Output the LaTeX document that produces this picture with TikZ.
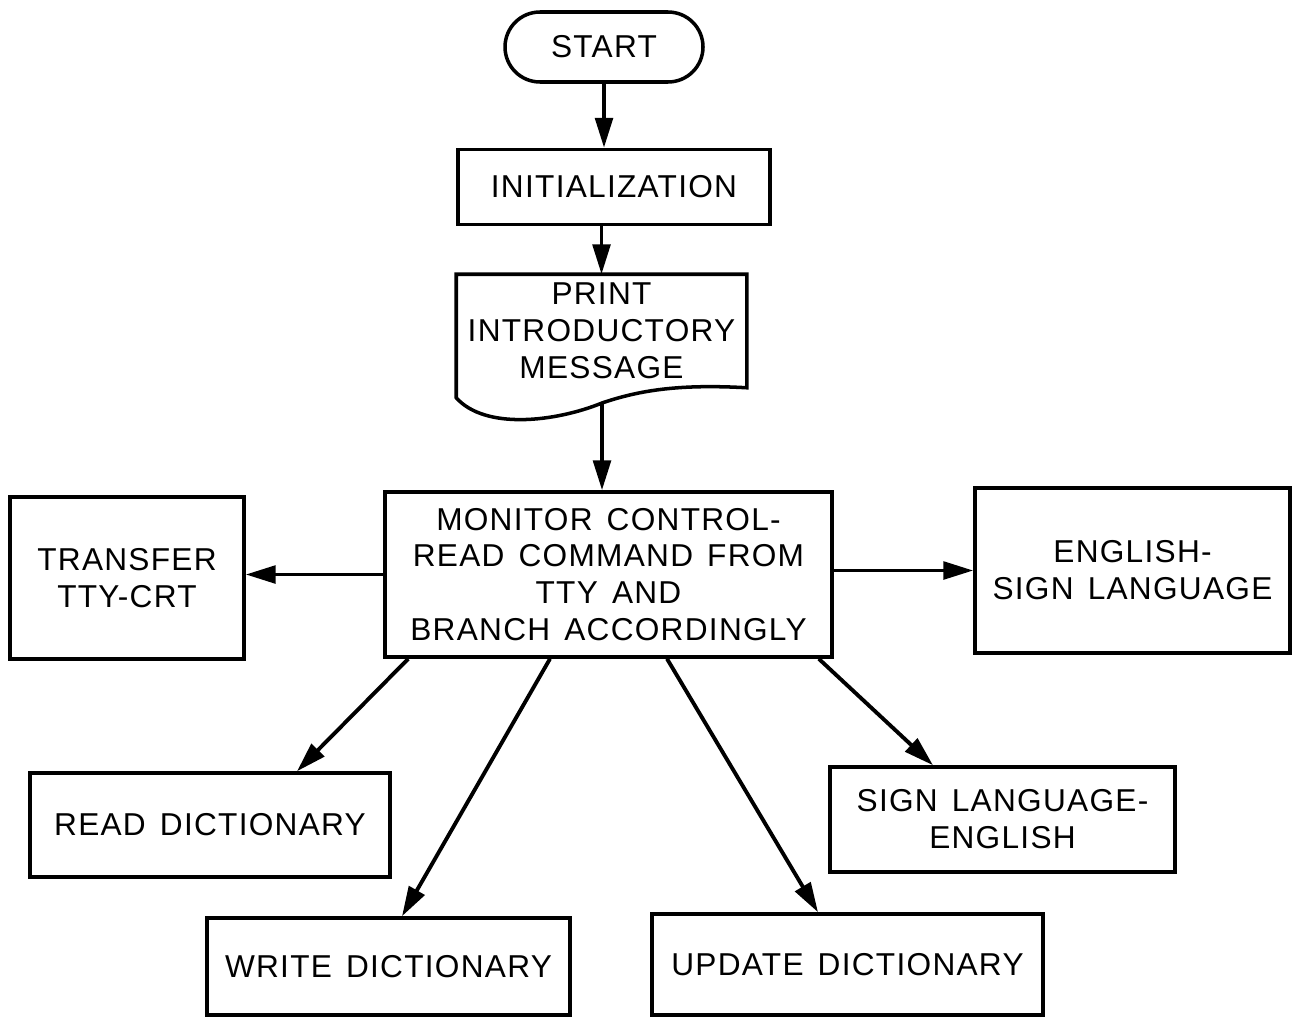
\documentclass[tikz,border=0pt]{standalone}
\usepackage{fontspec}
\setmainfont{Liberation Sans}[LetterSpace=4,WordSpace=1.4]
\usetikzlibrary{arrows.meta}

\begin{document}
\begin{tikzpicture}[
	box/.style={draw, line width=1pt, align=center, inner sep=0pt, font=\fontsize{9}{10.5}\selectfont},
	flow/.style={-{Triangle[length=8.5pt,width=5pt]}, line width=1.1pt}]
		\useasboundingbox (0,0) rectangle (12.94,-10.19);
		\node [box, rounded corners=0.35cm, minimum width=1.98cm, minimum height=0.70cm] (start) at (6.04,-0.47) {START};
		\node [box, minimum width=3.12cm, minimum height=0.75cm] (init) at (6.14,-1.87) {INITIALIZATION};
		\node [box, draw=none, minimum width=2.87cm, minimum height=1.10cm] (print) at (6.015,-3.31) {PRINT\\INTRODUCTORY\\MESSAGE};
		\draw [line width=1pt] (print.north east) -- (print.south east)
			.. controls (6.8,-3.84) and (6.4,-3.9) .. (6.02,-4.03) coordinate (printout)
			.. controls (5.55,-4.22) and (4.85,-4.3) .. ([yshift=-0.1cm]print.south west) -- (print.north west) -- cycle;
		\node [box, minimum width=4.47cm, minimum height=1.65cm] (monitor) at (6.085,-5.745) {MONITOR CONTROL-\\READ COMMAND FROM\\TTY AND\\BRANCH ACCORDINGLY};
		\node [box, minimum width=2.34cm, minimum height=1.62cm] (transfer) at (1.27,-5.78) {TRANSFER\\TTY-CRT};
		\node [box, minimum width=3.15cm, minimum height=1.65cm] (engsign) at (11.325,-5.705) {ENGLISH-\\SIGN LANGUAGE};
		\node [box, minimum width=3.60cm, minimum height=1.04cm] (readdict) at (2.10,-8.25) {READ DICTIONARY};
		\node [box, minimum width=3.63cm, minimum height=0.97cm] (writedict) at (3.885,-9.665) {WRITE DICTIONARY};
		\node [box, minimum width=3.91cm, minimum height=1.01cm] (updatedict) at (8.475,-9.645) {UPDATE DICTIONARY};
		\node [box, minimum width=3.45cm, minimum height=1.05cm] (signeng) at (10.025,-8.195) {SIGN LANGUAGE-\\ENGLISH};
		\draw [flow] (start.south) -- (start.south |- init.north);
		\draw [flow] (print.north |- init.south) -- (print.north);
		\draw [flow] (printout) -- (printout |- monitor.north);
		\draw [flow] (monitor.west) -- (monitor.west -| transfer.east);
		\draw [flow] (engsign.west -| monitor.east) -- (engsign.west);
		\draw [flow] ([xshift=0.25cm]monitor.south west) -- ([xshift=0.87cm]readdict.north);
		\draw [flow] ([xshift=-0.585cm]monitor.south) -- ([xshift=0.135cm]writedict.north);
		\draw [flow] ([xshift=0.585cm]monitor.south) -- ([xshift=-0.295cm]updatedict.north);
		\draw [flow] ([xshift=-0.15cm]monitor.south east) -- ([xshift=-0.695cm]signeng.north);
\end{tikzpicture}
\end{document}
